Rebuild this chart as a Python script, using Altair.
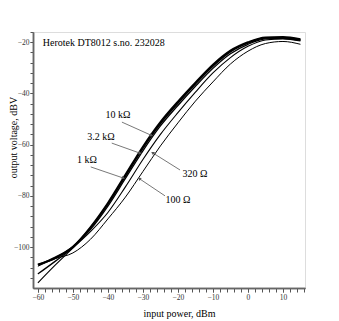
import math
import altair as alt
import pandas as pd

# ---- data ----
x_dbm = [-60, -55, -50, -45, -40, -35, -30, -25, -20, -15, -10, -5, 0, 5, 10, 15]
v_10k = [-106.8, -104.3, -100.0, -92.3, -82.8, -71.8, -60.8, -51.2, -43.2, -35.8, -28.8, -23.3, -20.0, -18.1, -18.0, -18.8]
v_3k2 = [-107.0, -104.0, -99.8, -92.6, -83.2, -72.3, -61.4, -51.8, -43.8, -36.3, -29.3, -23.7, -20.3, -18.3, -18.2, -19.0]
v_1k = [-110.5, -105.5, -100.2, -93.2, -84.0, -73.2, -62.4, -52.7, -44.7, -37.2, -30.2, -24.5, -20.8, -18.7, -18.5, -19.3]
v_320 = [-114.0, -107.0, -100.4, -94.0, -86.5, -76.5, -65.8, -56.0, -47.5, -39.5, -32.0, -26.0, -21.6, -19.1, -18.7, -19.5]
v_100 = [-107.5, -104.5, -102.3, -97.0, -89.0, -80.5, -70.5, -60.5, -51.5, -43.0, -35.5, -28.5, -23.5, -20.5, -19.7, -20.8]

series_names = ["10 kΩ", "3.2 kΩ", "1 kΩ", "320 Ω", "100 Ω"]
series_vals = [v_10k, v_3k2, v_1k, v_320, v_100]
series_width = [2.0, 1.6, 1.3, 1.1, 1.0]

# annotation labels (data units): text position, arrow start, arrow tip
lab_text = ["10 kΩ", "3.2 kΩ", "1 kΩ", "320 Ω", "100 Ω"]
lab_x = [-37.1, -42.0, -46.0, -15.1, -20.0]
lab_y = [-48.5, -57.0, -66.0, -71.5, -81.6]
arr_x1 = [-36.0, -38.9, -44.9, -19.4, -23.7]
arr_y1 = [-51.2, -59.4, -68.7, -69.9, -80.0]
arr_x2 = [-27.7, -30.9, -35.7, -27.1, -30.9]
arr_y2 = [-56.3, -63.3, -73.0, -63.3, -73.4]

title_text = "Herotek DT8012 s.no. 232028"
title_x = [-58.6]
title_y = [-20.4]

x_major = [-60, -50, -40, -30, -20, -10, 0, 10]
x_minor = list(range(-60, 17, 2))
y_major = [-100, -80, -60, -40, -20]
y_minor = list(range(-112, -15, 4))

x_dom = [-61.4, 16.3]
y_dom = [-116, -16]
W, H = 272, 256

rows = []
for name, vals in zip(series_names, series_vals):
    for xv, yv in zip(x_dbm, vals):
        rows.append({"series": name, "x": xv, "y": yv})
df = pd.DataFrame(rows)

px_per_x = W / (x_dom[1] - x_dom[0])
px_per_y = H / (y_dom[1] - y_dom[0])
angles = []
for a, b, c, d in zip(arr_x1, arr_y1, arr_x2, arr_y2):
    dx = (c - a) * px_per_x
    dy = -(d - b) * px_per_y
    angles.append(math.degrees(math.atan2(dx, -dy)) % 360)

ann = pd.DataFrame({"t": lab_text, "lx": lab_x, "ly": lab_y,
                    "x1": arr_x1, "y1": arr_y1, "x2": arr_x2, "y2": arr_y2,
                    "ang": angles})
ttl = pd.DataFrame({"t": [title_text], "x": title_x, "y": title_y})

FONT = "Liberation Serif"
xs = alt.Scale(domain=x_dom, nice=False, zero=False)
ys = alt.Scale(domain=y_dom, nice=False, zero=False)

common = dict(grid=False, labelFont=FONT, labelFontSize=7.5, labelColor="#333",
              tickColor="#555", tickWidth=1, domainColor="#666", domainWidth=1.5,
              titleFont=FONT, titleFontSize=10, titleFontWeight="normal",
              titleColor="#000", labelOverlap=False, labelFlush=False)

# minor-tick axes (no labels)
x_axis_minor = alt.Axis(values=x_minor, labels=False, tickSize=4, title=None,
                        orient="bottom", **{k: v for k, v in common.items() if not k.startswith("title")})
y_axis_minor = alt.Axis(values=y_minor, labels=False, tickSize=3, title=None,
                        orient="left", **{k: v for k, v in common.items() if not k.startswith("title")})
# major axes with labels
x_axis = alt.Axis(values=x_major, format="d", tickSize=4, labelPadding=1,
                  orient="bottom", title="input power, dBm",
                  titleX=146, titleY=25, titleBaseline="middle", **common)
y_axis = alt.Axis(values=y_major, format="d", tickSize=3, labelPadding=1,
                  orient="left", title="output voltage, dBV",
                  titleX=-20, titleY=105, titleBaseline="middle", titleAngle=270, **common)

minor = alt.Chart(df).mark_point(opacity=0).encode(
    x=alt.X("x:Q", scale=xs, axis=x_axis_minor),
    y=alt.Y("y:Q", scale=ys, axis=y_axis_minor))

layers = []
for name, wdt in zip(series_names, series_width):
    layers.append(
        alt.Chart(df[df.series == name]).mark_line(
            color="black", interpolate="monotone", strokeWidth=wdt).encode(
            x=alt.X("x:Q", scale=xs, axis=x_axis),
            y=alt.Y("y:Q", scale=ys, axis=y_axis)))

rules = alt.Chart(ann).mark_rule(color="#555", strokeWidth=0.8).encode(
    x=alt.X("x1:Q", scale=xs, axis=x_axis), y=alt.Y("y1:Q", scale=ys, axis=y_axis),
    x2="x2:Q", y2="y2:Q")

heads = alt.Chart(ann).mark_point(shape="triangle", filled=True, color="#555",
                                  size=14, opacity=1).encode(
    x=alt.X("x2:Q", scale=xs, axis=x_axis), y=alt.Y("y2:Q", scale=ys, axis=y_axis),
    angle=alt.Angle("ang:Q", scale=None))

labels = alt.Chart(ann).mark_text(font=FONT, fontSize=10, color="black").encode(
    x=alt.X("lx:Q", scale=xs, axis=x_axis), y=alt.Y("ly:Q", scale=ys, axis=y_axis),
    text="t:N")

title = alt.Chart(ttl).mark_text(font=FONT, fontSize=10, color="black",
                                 align="left", baseline="middle").encode(
    x=alt.X("x:Q", scale=xs, axis=x_axis), y=alt.Y("y:Q", scale=ys, axis=y_axis),
    text="t:N")

main = alt.layer(*layers, rules, heads, labels, title)

chart = alt.layer(minor, main).resolve_scale(x="independent", y="independent").resolve_axis(
    x="independent", y="independent").properties(
    width=W, height=H,
    autosize="none",
    padding={"left": 25, "top": 24, "right": 26, "bottom": 33},
).configure_view(stroke="#777", strokeWidth=1.5).configure(background="white")

chart.save("out.html", embed_options={"renderer": "svg", "actions": False})
